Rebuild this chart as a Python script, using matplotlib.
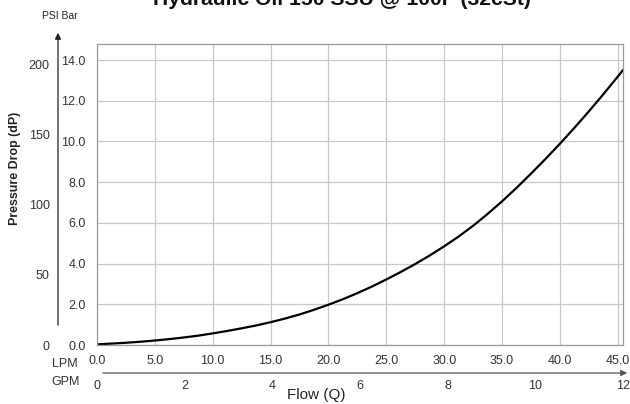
"""Pressure drop vs flow curve for hydraulic oil."""
import matplotlib
matplotlib.use("Agg")
import matplotlib.pyplot as plt
from matplotlib.patches import FancyArrowPatch

plt.rcParams["font.family"] = ["Liberation Sans", "DejaVu Sans"]

# data
flow_lpm = [0, 1.25, 2.5, 3.75, 5, 6.25, 7.5, 8.75, 10, 11.25, 12.5, 13.75,
            15, 16.25, 17.5, 18.75, 20, 21.25, 22.5, 23.75, 25, 26.25, 27.5, 28.75,
            30, 31.25, 32.5, 33.75, 35, 36.25, 37.5, 38.75, 40, 41.25, 42.5, 43.75,
            45, 45.45]
dp_bar = [0.03, 0.07, 0.11, 0.16, 0.22, 0.29, 0.37, 0.46, 0.57, 0.69, 0.82, 0.96,
          1.12, 1.30, 1.50, 1.73, 1.98, 2.25, 2.55, 2.87, 3.22, 3.59, 3.98, 4.40,
          4.85, 5.33, 5.86, 6.44, 7.06, 7.72, 8.42, 9.14, 9.89, 10.67, 11.48, 12.32,
          13.19, 13.51]
bar_ticks = [0, 2, 4, 6, 8, 10, 12, 14]
lpm_ticks = [0, 5, 10, 15, 20, 25, 30, 35, 40, 45]
psi_ticks = [0, 50, 100, 150, 200]
gpm_ticks = [0, 2, 4, 6, 8, 10, 12]

PSI_PER_BAR = 14.5038
LPM_PER_GPM = 3.78541
W, H = 630, 404

fig = plt.figure(figsize=(6.3, 4.04), dpi=100)
ax = fig.add_axes([97 / W, 59 / H, 526 / W, 301 / H])

ax.plot(flow_lpm, dp_bar, color="black", lw=1.6, solid_capstyle="round")
ax.set_xlim(0, 45.45)
ax.set_ylim(0, 14.79)
ax.set_xticks(lpm_ticks)
ax.set_xticklabels([f"{v:.1f}" for v in lpm_ticks])
ax.set_yticks(bar_ticks)
ax.set_yticklabels([f"{v:.1f}" for v in bar_ticks])
ax.tick_params(length=0, labelsize=9, colors="#333333")
ax.tick_params(axis="x", pad=7)
ax.tick_params(axis="y", pad=8)
ax.grid(color="#c8c8c8", lw=0.9)
for s in ax.spines.values():
    s.set_color("#999999")
    s.set_linewidth(0.9)

# PSI scale on the left
psi = ax.secondary_yaxis(-0.074, functions=(lambda b: b * PSI_PER_BAR, lambda p: p / PSI_PER_BAR))
psi.set_yticks(psi_ticks)
psi.tick_params(length=0, labelsize=9, colors="#333333", pad=6)
psi.spines["left"].set_visible(False)
fig.add_artist(FancyArrowPatch(
    (58 / W, 1 - 328 / H), (58 / W, 1 - 30 / H), transform=fig.transFigure,
    arrowstyle="-|>", mutation_scale=9, color="#222222", lw=0.9))

# GPM scale below
gpm = ax.secondary_xaxis(-0.093, functions=(lambda l: l / LPM_PER_GPM, lambda g: g * LPM_PER_GPM))
gpm.set_xticks(gpm_ticks)
gpm.tick_params(length=0, labelsize=9, colors="#333333", pad=5)
gpm.spines["bottom"].set_visible(False)
fig.add_artist(FancyArrowPatch(
    (100 / W, 1 - 373 / H), (630 / W, 1 - 373 / H), transform=fig.transFigure,
    arrowstyle="-|>", mutation_scale=9, color="#555555", lw=0.9))

fig.text(65 / W, 1 - 364 / H, "LPM", ha="center", va="center", fontsize=9, color="#333333")
fig.text(66 / W, 1 - 382 / H, "GPM", ha="center", va="center", fontsize=9, color="#333333")
fig.text(316 / W, 1 - 395 / H, "Flow (Q)", ha="center", va="center", fontsize=11, color="#222222")
fig.text(60 / W, 1 - 16 / H, "PSI Bar", ha="center", va="center", fontsize=7.5, color="#222222")
fig.text(15 / W, 1 - 168 / H, "Pressure Drop (dP)", ha="center", va="center", rotation=90,
         fontsize=8.9, fontweight="bold", color="#222222")
# the title sits partly above the top edge, as in the reference
fig.text(342 / W, 1 - 5 / H, "Hydraulic Oil 150 SSU @ 100F (32cSt)", ha="center", va="baseline",
         fontsize=15.2, fontweight="bold", color="#111111")

fig.savefig("out.png", dpi=100)
